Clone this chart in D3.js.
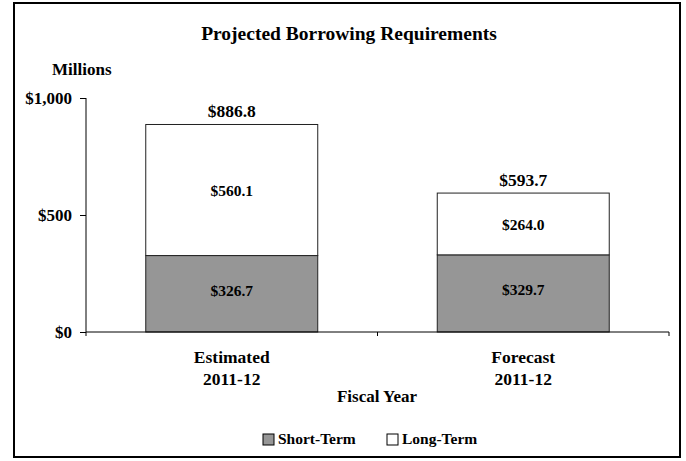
<!DOCTYPE html>
<html>
<head>
<meta charset="utf-8">
<script src="https://cdn.jsdelivr.net/npm/d3@7"></script>
<style>
  body { margin: 0; background: #fff; }
  svg text { font-family: "Liberation Serif", "Times New Roman", serif; font-weight: bold; fill: #000; }
</style>
</head>
<body>
<svg id="chart" width="686" height="461"></svg>
<script>
// chart data
const categories = ["Estimated\n2011-12", "Forecast\n2011-12"];
const shortTerm = [326.7, 329.7];
const longTerm = [560.1, 264.0];
const totals = [886.8, 593.7];
const yTicks = [0, 500, 1000];
const seriesNames = ["Short-Term", "Long-Term"];
const seriesColors = ["#969696", "#ffffff"];

const svg = d3.select("#chart");
const margin = {left: 86, right: 17, top: 98, bottom: 129};
const width = 686 - margin.left - margin.right;
const height = 461 - margin.top - margin.bottom;

// outer frame
svg.append("rect")
  .attr("x", 14).attr("y", 3)
  .attr("width", 666).attr("height", 454)
  .attr("fill", "none").attr("stroke", "#000").attr("stroke-width", 2);

svg.append("text")
  .attr("x", 349).attr("y", 40)
  .attr("text-anchor", "middle")
  .style("font-size", "19.5px")
  .text("Projected Borrowing Requirements");

svg.append("text")
  .attr("x", 52).attr("y", 75)
  .style("font-size", "17px")
  .text("Millions");

const g = svg.append("g").attr("transform", "translate(" + margin.left + "," + margin.top + ")");

const x = d3.scaleBand().domain(categories).range([0, width]).paddingInner(0.41).paddingOuter(0.205);
const y = d3.scaleLinear().domain([0, 1000]).range([height, 0]);

const rows = categories.map((c, i) => ({cat: c, short: shortTerm[i], long: longTerm[i], total: totals[i]}));
const stack = d3.stack().keys(["short", "long"])(rows);
const labelShift = [2, 6];

// bars
stack.forEach((layer, k) => {
  g.selectAll(".bar" + k)
    .data(layer)
    .enter().append("rect")
    .attr("x", d => x(d.data.cat))
    .attr("y", d => y(d[1]))
    .attr("width", x.bandwidth())
    .attr("height", d => y(d[0]) - y(d[1]))
    .attr("fill", seriesColors[k])
    .attr("stroke", "#222")
    .attr("stroke-width", 1);

  g.selectAll(".lab" + k)
    .data(layer)
    .enter().append("text")
    .attr("x", d => x(d.data.cat) + x.bandwidth() / 2)
    .attr("y", d => (y(d[0]) + y(d[1])) / 2 + labelShift[k])
    .attr("text-anchor", "middle")
    .style("font-size", "15.5px")
    .text(d => "$" + (d[1] - d[0]).toFixed(1));
});

// totals
g.selectAll(".total")
  .data(rows)
  .enter().append("text")
  .attr("x", d => x(d.cat) + x.bandwidth() / 2)
  .attr("y", d => y(d.total) - 7)
  .attr("text-anchor", "middle")
  .style("font-size", "17.5px")
  .text(d => "$" + d.total.toFixed(1));

// y axis
const yAxis = g.append("g")
  .call(d3.axisLeft(y).tickValues(yTicks).tickSize(6).tickPadding(8)
    .tickFormat(d => "$" + d3.format(",")(d)));
yAxis.select(".domain").attr("d", "M0," + y(1000) + "V" + height);
yAxis.selectAll("text").style("font-size", "17px").attr("fill", "#000");

// x axis with boundary ticks
const xg = g.append("g").attr("transform", "translate(0," + height + ")");
xg.append("line").attr("x1", 0).attr("x2", width).attr("stroke", "#000");
const step = width / categories.length;
xg.selectAll(".xt")
  .data(d3.range(categories.length + 1))
  .enter().append("line")
  .attr("x1", i => i * step).attr("x2", i => i * step)
  .attr("y1", 0).attr("y2", 4)
  .attr("stroke", "#000");

xg.selectAll(".cat")
  .data(categories)
  .enter().append("text")
  .attr("x", d => x(d) + x.bandwidth() / 2)
  .attr("y", 31)
  .attr("text-anchor", "middle")
  .style("font-size", "17.5px")
  .each(function(d) {
    d.split("\n").forEach((line, i) => {
      d3.select(this).append("tspan")
        .attr("x", x(d) + x.bandwidth() / 2)
        .attr("dy", i === 0 ? 0 : 22)
        .text(line);
    });
  });

svg.append("text")
  .attr("x", 377).attr("y", 402)
  .attr("text-anchor", "middle")
  .style("font-size", "17px")
  .text("Fiscal Year");

// legend
const legendX = [263, 387];
const legend = svg.selectAll(".leg")
  .data(seriesNames)
  .enter().append("g")
  .attr("transform", (d, i) => "translate(" + legendX[i] + ",434)");
legend.append("rect")
  .attr("width", 11).attr("height", 11)
  .attr("fill", (d, i) => seriesColors[i])
  .attr("stroke", "#000");
legend.append("text")
  .attr("x", 15).attr("y", 10)
  .style("font-size", "15.5px")
  .text(d => d);
</script>
</body>
</html>
